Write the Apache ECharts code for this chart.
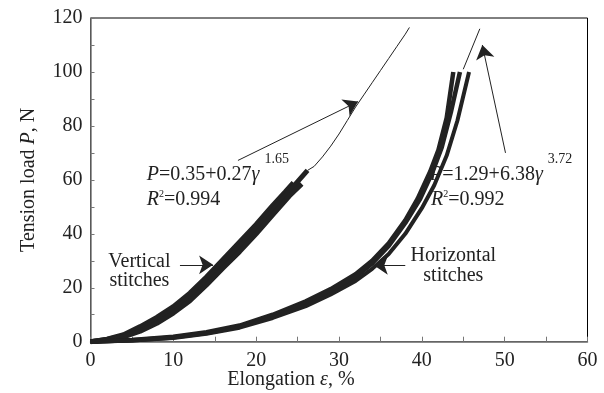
<!DOCTYPE html>
<html><head><meta charset="utf-8">
<script src="https://cdn.jsdelivr.net/npm/echarts@6/dist/echarts.min.js"></script>
<style>html,body{margin:0;padding:0;background:#fff}#c{width:604px;height:393px}</style>
</head><body><div id="c"></div>
<script>
// ---- data ----
const xTicks = [0,10,20,30,40,50,60];
const yTicks = [0,20,40,60,80,100,120];
const vertA = [[0,0],[2,0.9],[4,2.6],[6,5.6],[8,9],[10,13],[12,18],[14,24],[16,30.5],[18,37],[20,43.5],[22,50.5],[23.5,55.5],[24.5,59]];
const vertB = [[0,0],[2,0.8],[4,2.2],[6,4.7],[8,7.9],[10,11.9],[12,16.7],[14,22.7],[16,29.2],[18,35.3],[20,41.8],[22,48.8],[24,55.8],[26.2,63.5]];
const vertC = [[0,0],[2,0.6],[4,1.8],[6,3.9],[8,6.8],[10,10.6],[12,15.2],[14,21],[16,27.3],[18,33.4],[20,40],[22,47],[24,54],[25.5,58.5]];
const horA = [[0,0],[5,0.6],[10,1.8],[14,3.5],[18,6],[22,10],[26,15],[29,19.5],[32,25],[34,30],[36,36.5],[38,45],[39.5,53],[41,63],[42,71],[43,83],[43.8,100]];
const horB = [[0,0],[5,0.5],[10,1.6],[14,3.2],[18,5.6],[22,9.4],[26,14.2],[29,18.8],[32,24],[34,29],[36,35.5],[38,44],[39.8,53],[41.3,63],[42.4,72],[43.5,85],[44.6,100]];
const horC = [[0,0],[5,0.4],[10,1.4],[14,2.9],[18,5.2],[22,8.8],[26,13.2],[29,17.5],[32,22.5],[34,27],[36,32.5],[38,40],[40,49.5],[41.5,58],[43,69],[44.3,82],[45.7,100]];
const fitVert = [[26.2,63.5],[27,65],[28,68.5],[29,72.5],[30,77],[31,82],[32,87],[33,91.5],[34,96],[35,100.5],[36,105],[37,109.5],[38,114],[38.5,116.5]];
const fitHor = [[45,101],[47,116]];
const arrows = [
  [[17.8,67.2],[32.3,89]],
  [[50.1,70],[47.3,110]],
  [[10.8,28.5],[14.8,28.5]],
  [[38,28.3],[34.2,28.3]]
];
const labels = [
  {t:'{i|P}=0.35+0.27{i|γ}', p:[6.8,61.9], a:'left', sup:'1.65'},
  {t:'{i|R}{s|2}=0.994', p:[6.8,52.7], a:'left'},
  {t:'Vertical', p:[5.9,29.6], a:'center'},
  {t:'stitches', p:[5.9,22.5], a:'center'},
  {t:'Horizontal', p:[43.8,31.9], a:'center'},
  {t:'stitches', p:[43.8,24.4], a:'center'},
  {t:'{i|P}=1.29+6.38{i|γ}', p:[41,61.9], a:'left', sup:'3.72'},
  {t:'{i|R}{s|2}=0.992', p:[41.1,52.7], a:'left'},
  {t:'Elongation {i|ε}, %', p:[24.2,-14.2], a:'center'},
];

const FONT = 'Liberation Serif';
const INK = '#222';
const chart = echarts.init(document.getElementById('c'), null, {renderer:'canvas'});
function curve(d, w){
  return {type:'line', data:d, showSymbol:false, symbol:'none', smooth:false,
    lineStyle:{color:INK, width:w}, z:3, silent:true, animation:false};
}
const option = {
  animation:false,
  grid:{left:90.5, right:16.5, top:18, bottom:51.3, show:true, borderColor:'#000', borderWidth:1, backgroundColor:'#fff'},
  xAxis:{type:'value', min:xTicks[0], max:xTicks[xTicks.length-1], interval:10,
    axisLine:{show:true, lineStyle:{color:'#777', width:1.5}},
    axisTick:{show:true, inside:true, length:5, lineStyle:{color:'#777'}},
    minorTick:{show:true, splitNumber:2, length:5, lineStyle:{color:'#777'}},
    splitLine:{show:false},
    axisLabel:{fontFamily:FONT, fontSize:20, color:INK, margin:9}},
  yAxis:{type:'value', min:yTicks[0], max:yTicks[yTicks.length-1], interval:20,
    name:'{n|Tension load }{i|P}{n|, N}', nameLocation:'middle', nameGap:52,
    nameTextStyle:{fontFamily:FONT, fontSize:20, color:INK,
      rich:{n:{fontFamily:FONT,fontSize:20,color:INK}, i:{fontFamily:FONT,fontSize:20,color:INK,fontStyle:'italic'}}},
    axisLine:{show:true, lineStyle:{color:'#777', width:1.5}},
    axisTick:{show:true, inside:true, length:4, lineStyle:{color:'#777'}},
    minorTick:{show:true, splitNumber:2, length:4, lineStyle:{color:'#777'}},
    splitLine:{show:false},
    axisLabel:{fontFamily:FONT, fontSize:20, color:INK, margin:8}},
  series:[
    curve(vertA,5), curve(vertB,5), curve(vertC,5),
    curve(horA,4.5), curve(horB,4.5), curve(horC,4),
    curve(fitVert,1), curve(fitHor,1),
    {type:'lines', coordinateSystem:'cartesian2d', silent:true, z:4,
      symbol:['none','arrow'], symbolSize:14,
      lineStyle:{color:INK, width:1, opacity:1},
      data:arrows.map(c=>({coords:c}))}
  ]
};
chart.setOption(option);
const ctx = document.createElement('canvas').getContext('2d');
function measure(t){
  // width of rich string: italic parts {i|..}
  let w = 0;
  t.replace(/\{(\w)\|([^}]*)\}|([^{]+)/g, (m, k, s, plain)=>{
    if (plain){ ctx.font = '20px "'+FONT+'"'; w += ctx.measureText(plain).width; }
    else if (k==='i'){ ctx.font = 'italic 20px "'+FONT+'"'; w += ctx.measureText(s).width; }
    return m;
  });
  return w;
}
const g = [];
labels.forEach(l=>{
  const px = chart.convertToPixel({gridIndex:0}, l.p);
  g.push({type:'text', x:px[0], y:px[1], z:10, silent:true,
    style:{text:l.t, fontFamily:FONT, fontSize:20, fill:INK, align:l.a, verticalAlign:'middle',
      rich:{i:{fontFamily:FONT,fontSize:20,fontStyle:'italic',fill:INK},
            s:{fontFamily:FONT,fontSize:10,fill:INK,verticalAlign:'top'}}}});
  if (l.sup){
    g.push({type:'text', x:px[0]+measure(l.t)+5, y:px[1]-15, z:10, silent:true,
      style:{text:l.sup, fontFamily:FONT, fontSize:14, fill:INK, align:'left', verticalAlign:'middle'}});
  }
});
chart.setOption({graphic:g});
</script></body></html>
